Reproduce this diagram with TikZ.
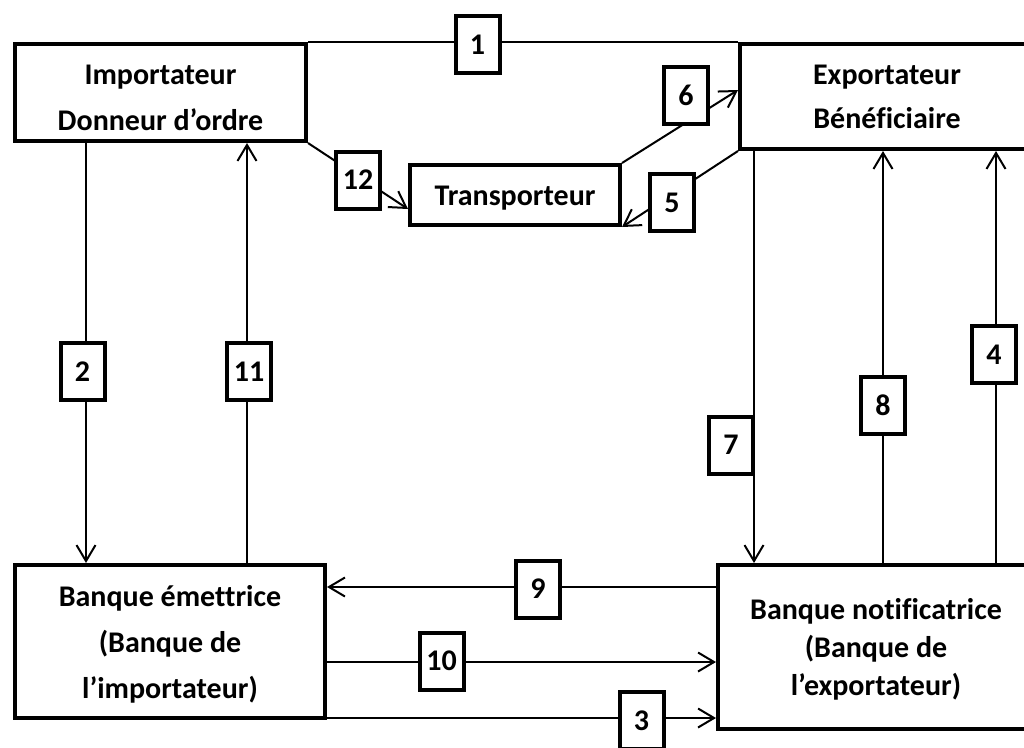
\documentclass[tikz,border=0pt]{standalone}
\usepackage{fontspec}
\setmainfont{Carlito}[Ligatures=NoCommon]
\usetikzlibrary{arrows.meta}
\begin{document}
\begin{tikzpicture}[x=1pt,y=-1pt,
  bigbox/.style={draw,line width=4pt,minimum width=#1,inner sep=0pt},
  txt/.style={align=center,inner sep=0pt,font=\fontsize{30}{#1}\selectfont\bfseries},
  numbox/.style={draw,line width=4pt,fill=white,minimum width=44pt,minimum height=57pt,inner sep=0pt,
     font=\fontsize{30}{34}\selectfont\bfseries},
  conn/.style={line width=2pt},
  arr/.style={line width=2pt,-{Straight Barb[length=16pt,width=19pt,line width=2pt]}}]
\useasboundingbox (0,0) rectangle (1024,747);
\clip (0,0) rectangle (1024,747);
% main boxes
\node[bigbox=291pt,minimum height=97pt] (imp) at (160.5,92.5) {};
\node[bigbox=294pt,minimum height=105pt] (exp) at (887,96.5) {};
\node[bigbox=210pt,minimum height=60pt] (tr) at (515,195) {};
\node[bigbox=310pt,minimum height=153pt] (bem) at (170,641.5) {};
\node[bigbox=316pt,minimum height=164pt] (bno) at (876,647) {};
% texts
\node[txt=46] (impT) at (160.5,98) {Importateur\\Donneur d’ordre};
\node[txt=44] (expT) at (887,96.5) {Exportateur\\Bénéficiaire};
\node[txt=44] (trT) at (515,198) {Transporteur};
\node[txt=46] (bemT) at (170,644) {Banque émettrice\\(Banque de\\l’importateur)};
\node[txt=38] (bnoT) at (876,649) {Banque notificatrice\\(Banque de\\l’exportateur)};
% connectors
\draw[conn] (imp.north east) -- (exp.north west);
\draw[arr] (imp.south east) -- ([yshift=-14pt]tr.west);
\draw[arr] (tr.north east) -- ([yshift=6.5pt]exp.west);
\draw[arr] (exp.south west) -- (tr.south east);
\draw[arr] ([xshift=73pt]imp.south west) -- ([xshift=73pt]bem.north west);
\draw[arr] ([xshift=234pt]bem.north west) -- ([xshift=234pt]imp.south west);
\draw[arr] ([xshift=16pt]exp.south west) -- ([xshift=38pt]bno.north west);
\draw[arr] ([xshift=167pt]bno.north west) -- ([xshift=145pt]exp.south west);
\draw[arr] ([xshift=280pt]bno.north west) -- ([xshift=258pt]exp.south west);
\draw[arr] ([yshift=-24pt]bno.north west) -- ([yshift=-24pt]bem.north east);
\draw[arr] ([yshift=-99pt]bem.north east) -- ([yshift=-99pt]bno.north west);
\draw[arr] ([yshift=2pt]bem.south east) -- ([yshift=-155pt]bno.north west);
% number labels
\node[numbox] (l1) at (477.5,44.5) {1};
\node[numbox] (l12) at (358,180) {12};
\node[numbox] (l6) at (686,95.5) {6};
\node[numbox] (l5) at (672,202.5) {5};
\node[numbox] (l2) at (82.5,371.5) {2};
\node[numbox] (l11) at (249,371.5) {11};
\node[numbox] (l7) at (731,445) {7};
\node[numbox] (l8) at (883,405) {8};
\node[numbox] (l4) at (994,354.5) {4};
\node[numbox] (l9) at (538,589) {9};
\node[numbox] (l10) at (441.5,661) {10};
\node[numbox] (l3) at (641.5,720.5) {3};
\end{tikzpicture}
\end{document}
